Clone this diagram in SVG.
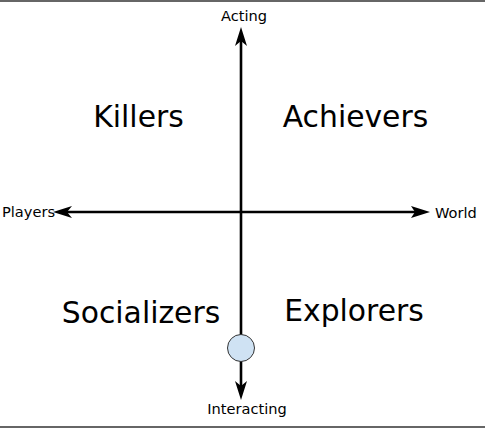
<svg xmlns="http://www.w3.org/2000/svg" width="485" height="428" viewBox="0 0 485 428">
<style>
.ax{stroke:#000;stroke-width:2.6;fill:none}
.ah{fill:#000;stroke:none}
.sm{font-family:"DejaVu Sans",sans-serif;font-size:14.6px;fill:#000}
.big{font-family:"DejaVu Sans",sans-serif;font-size:29.8px;fill:#000}
</style>
<rect x="0" y="0" width="485" height="428" fill="#fff"/>
<line x1="0" y1="1" x2="485" y2="1" stroke="#666" stroke-width="2"/>
<line x1="0" y1="427" x2="485" y2="427" stroke="#666" stroke-width="2"/>
<g id="connectors">
<line class="ax" x1="241" y1="40" x2="241" y2="386"/>
<line class="ax" x1="67" y1="212" x2="415" y2="212"/>
<path class="ah" d="M241,27 L247,46 L241,41 L235,46 Z"/>
<path class="ah" d="M241,400 L247,381 L241,386 L235,381 Z"/>
<path class="ah" d="M53,212 L72,206 L67,212 L72,218 Z"/>
<path class="ah" d="M430,212 L411,206 L415,212 L411,218 Z"/>
</g>
<g id="acting"><text class="sm" x="244" y="21" text-anchor="middle">Acting</text></g>
<g id="interacting"><text class="sm" x="247" y="414" text-anchor="middle">Interacting</text></g>
<g id="players"><text class="sm" x="2" y="217">Players</text></g>
<g id="world"><text class="sm" x="435" y="218">World</text></g>
<g id="killers"><text class="big" x="138.5" y="127" text-anchor="middle">Killers</text></g>
<g id="achievers"><text class="big" x="355.5" y="127" text-anchor="middle">Achievers</text></g>
<g id="socializers"><text class="big" x="141" y="323" text-anchor="middle">Socializers</text></g>
<g id="explorers"><text class="big" x="354" y="321" text-anchor="middle">Explorers</text></g>
<g id="marker"><circle cx="241" cy="348" r="13.5" fill="#cfe2f3" stroke="#333" stroke-width="1"/></g>
</svg>
